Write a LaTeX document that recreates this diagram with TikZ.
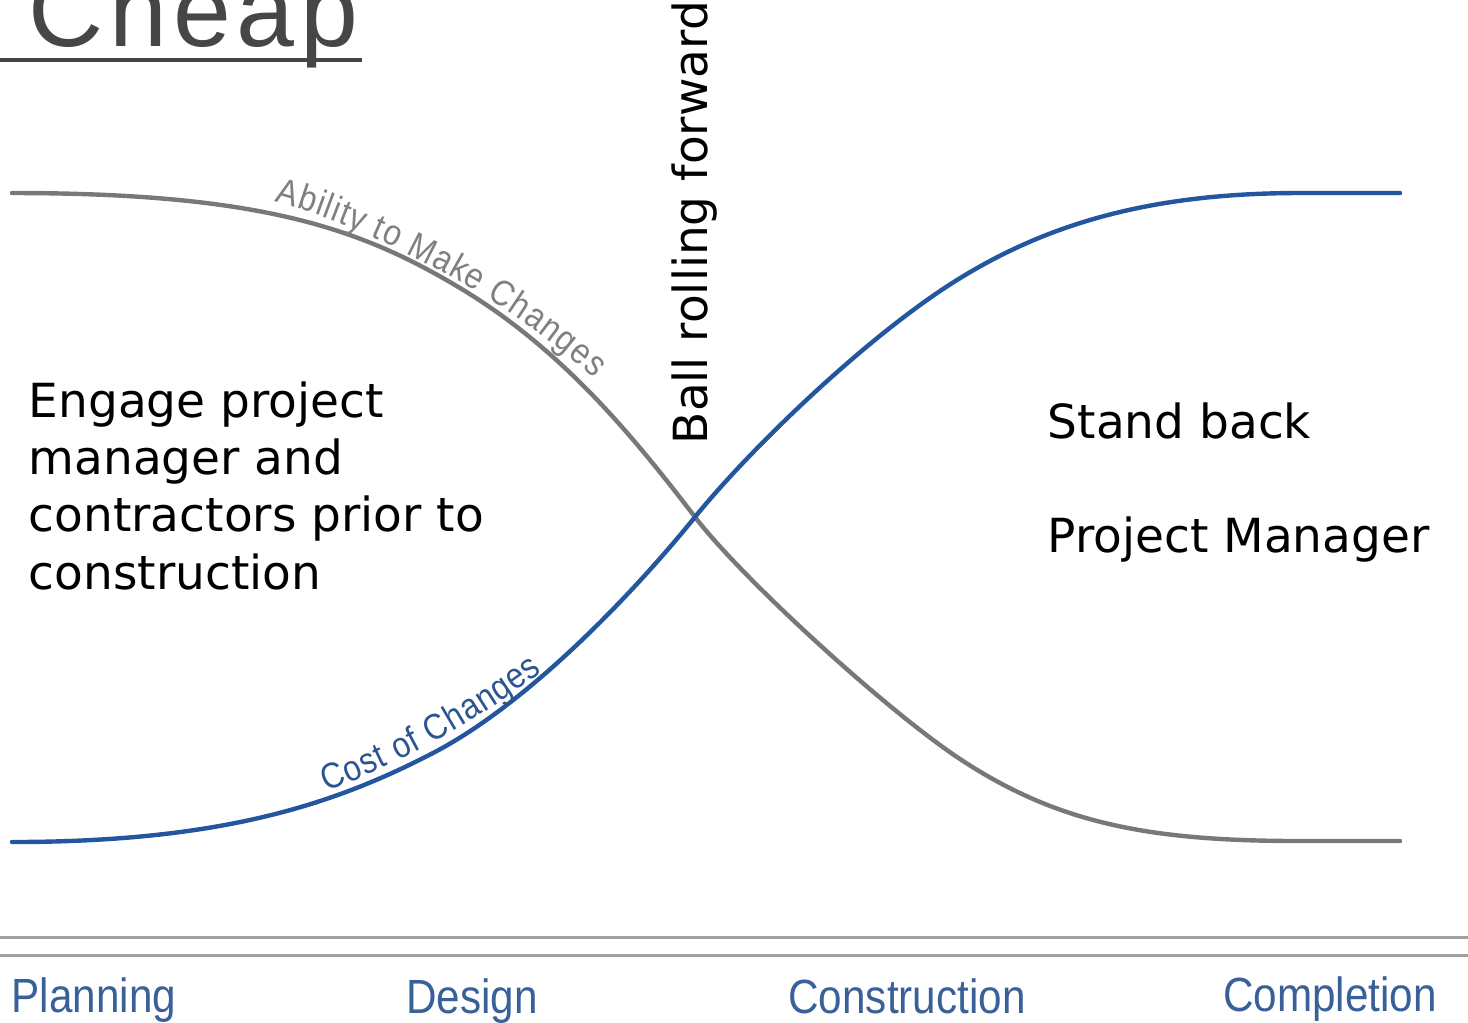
\documentclass[tikz,border=0pt]{standalone}
\usepackage{fontspec}
\setmainfont{DejaVu Sans}
\newfontfamily\condfont[FakeStretch=0.88]{Liberation Sans}
\newfontfamily\titlefont[LetterSpace=5.5]{Liberation Sans}
\usetikzlibrary{decorations.text}
\definecolor{curvegray}{RGB}{120,120,120}
\definecolor{labelgray}{RGB}{128,128,128}
\definecolor{curveblue}{RGB}{36,86,160}
\definecolor{labelblue}{RGB}{44,84,146}
\definecolor{axisblue}{RGB}{58,96,154}
\definecolor{titlegray}{RGB}{70,70,70}
\definecolor{rulegray}{RGB}{160,160,160}
\tikzset{
  graycurve/.style={draw=curvegray, line width=1.1pt, line cap=round},
  bluecurve/.style={draw=curveblue, line width=1.1pt, line cap=round},
  bodytext/.style={inner sep=0pt, font=\fontsize{11.75}{14.4}\selectfont, text=black},
  axislabel/.style={inner sep=0pt, anchor=base, font=\condfont\fontsize{12}{14}\selectfont, text=axisblue},
  axisrule/.style={draw=rulegray, line width=0.75pt}
}
\begin{document}
\begin{tikzpicture}[x=0.25pt, y=-0.25pt]
\path[use as bounding box, clip] (0,0) rectangle (1468,1022);
\fill[white] (0,0) rectangle (1468,1022);

% title
\node[inner sep=0pt, anchor=base west, text=titlegray, font=\titlefont\fontsize{26}{28}\selectfont] (title) at (28,46) {Cheap};
\coordinate (ulA) at (0,60);
\coordinate (ulB) at (362,60);
\draw[titlegray, line width=1.1pt] (ulA) -- (ulB);

% curves
\coordinate (g0) at (12,193);
\coordinate (g1) at (460,288);
\coordinate (cross) at (695,517);
\coordinate (g2) at (957,757);
\coordinate (g3) at (1300,841);
\coordinate (g4) at (1400,841);
\draw[graycurve] (g0) .. controls (260,193) and (360,228) .. (g1)
  .. controls (560,348) and (630,432) .. (cross)
  .. controls (740,576) and (880,705) .. (g2)
  .. controls (1057,824) and (1150,841) .. (g3) -- (g4);
\coordinate (b0) at (12,842);
\coordinate (b1) at (433,753);
\coordinate (b2) at (957,280);
\coordinate (b3) at (1300,193);
\coordinate (b4) at (1400,193);
\draw[bluecurve] (b0) .. controls (220,842) and (333,805) .. (b1)
  .. controls (533,701) and (640,585) .. (cross)
  .. controls (750,449) and (867,336) .. (b2)
  .. controls (1047,224) and (1150,193) .. (b3) -- (b4);

% curve labels
\coordinate (gl1) at (272,211);
\coordinate (gl2) at (587,386);
\coordinate (bl1) at (330,800);
\coordinate (bl2) at (548,679);
\path[decorate, decoration={text along path, raise=2.4pt, text align={fit to path},
  text={|\condfont\fontsize{9}{9}\selectfont\color{labelgray}|Ability to Make Changes}}]
  (gl1) .. controls (368,236) and (515,314) .. (gl2);
\path[decorate, decoration={text along path, raise=2.2pt, text align={fit to path},
  text={|\condfont\fontsize{9}{9}\selectfont\color{labelblue}|Cost of Changes}}]
  (bl1) .. controls (405,772) and (488,724) .. (bl2);

% body texts
\node[bodytext, anchor=base west] (eng1) at (28,417) {Engage project};
\node[bodytext, anchor=base west] (eng2) at (28,474) {manager and};
\node[bodytext, anchor=base west] (eng3) at (28,531) {contractors prior to};
\node[bodytext, anchor=base west] (eng4) at (28,589) {construction};
\node[bodytext, anchor=base west] (stand) at (1047,438) {Stand back};
\node[bodytext, anchor=base west] (pm) at (1047,552) {Project Manager};
\node[bodytext, anchor=base west, rotate=90] (ball) at (707,445) {Ball rolling forward};

% axis
\coordinate (r1a) at (0,937);
\coordinate (r1b) at (1468,937);
\coordinate (r2a) at (0,955);
\coordinate (r2b) at (1468,955);
\draw[axisrule] (r1a) -- (r1b);
\draw[axisrule] (r2a) -- (r2b);
\node[axislabel] (plan) at (94,1012) {Planning};
\node[axislabel] (design) at (472,1013) {Design};
\node[axislabel] (constr) at (907,1013) {Construction};
\node[axislabel] (compl) at (1330,1011) {Completion};
\end{tikzpicture}
\end{document}
